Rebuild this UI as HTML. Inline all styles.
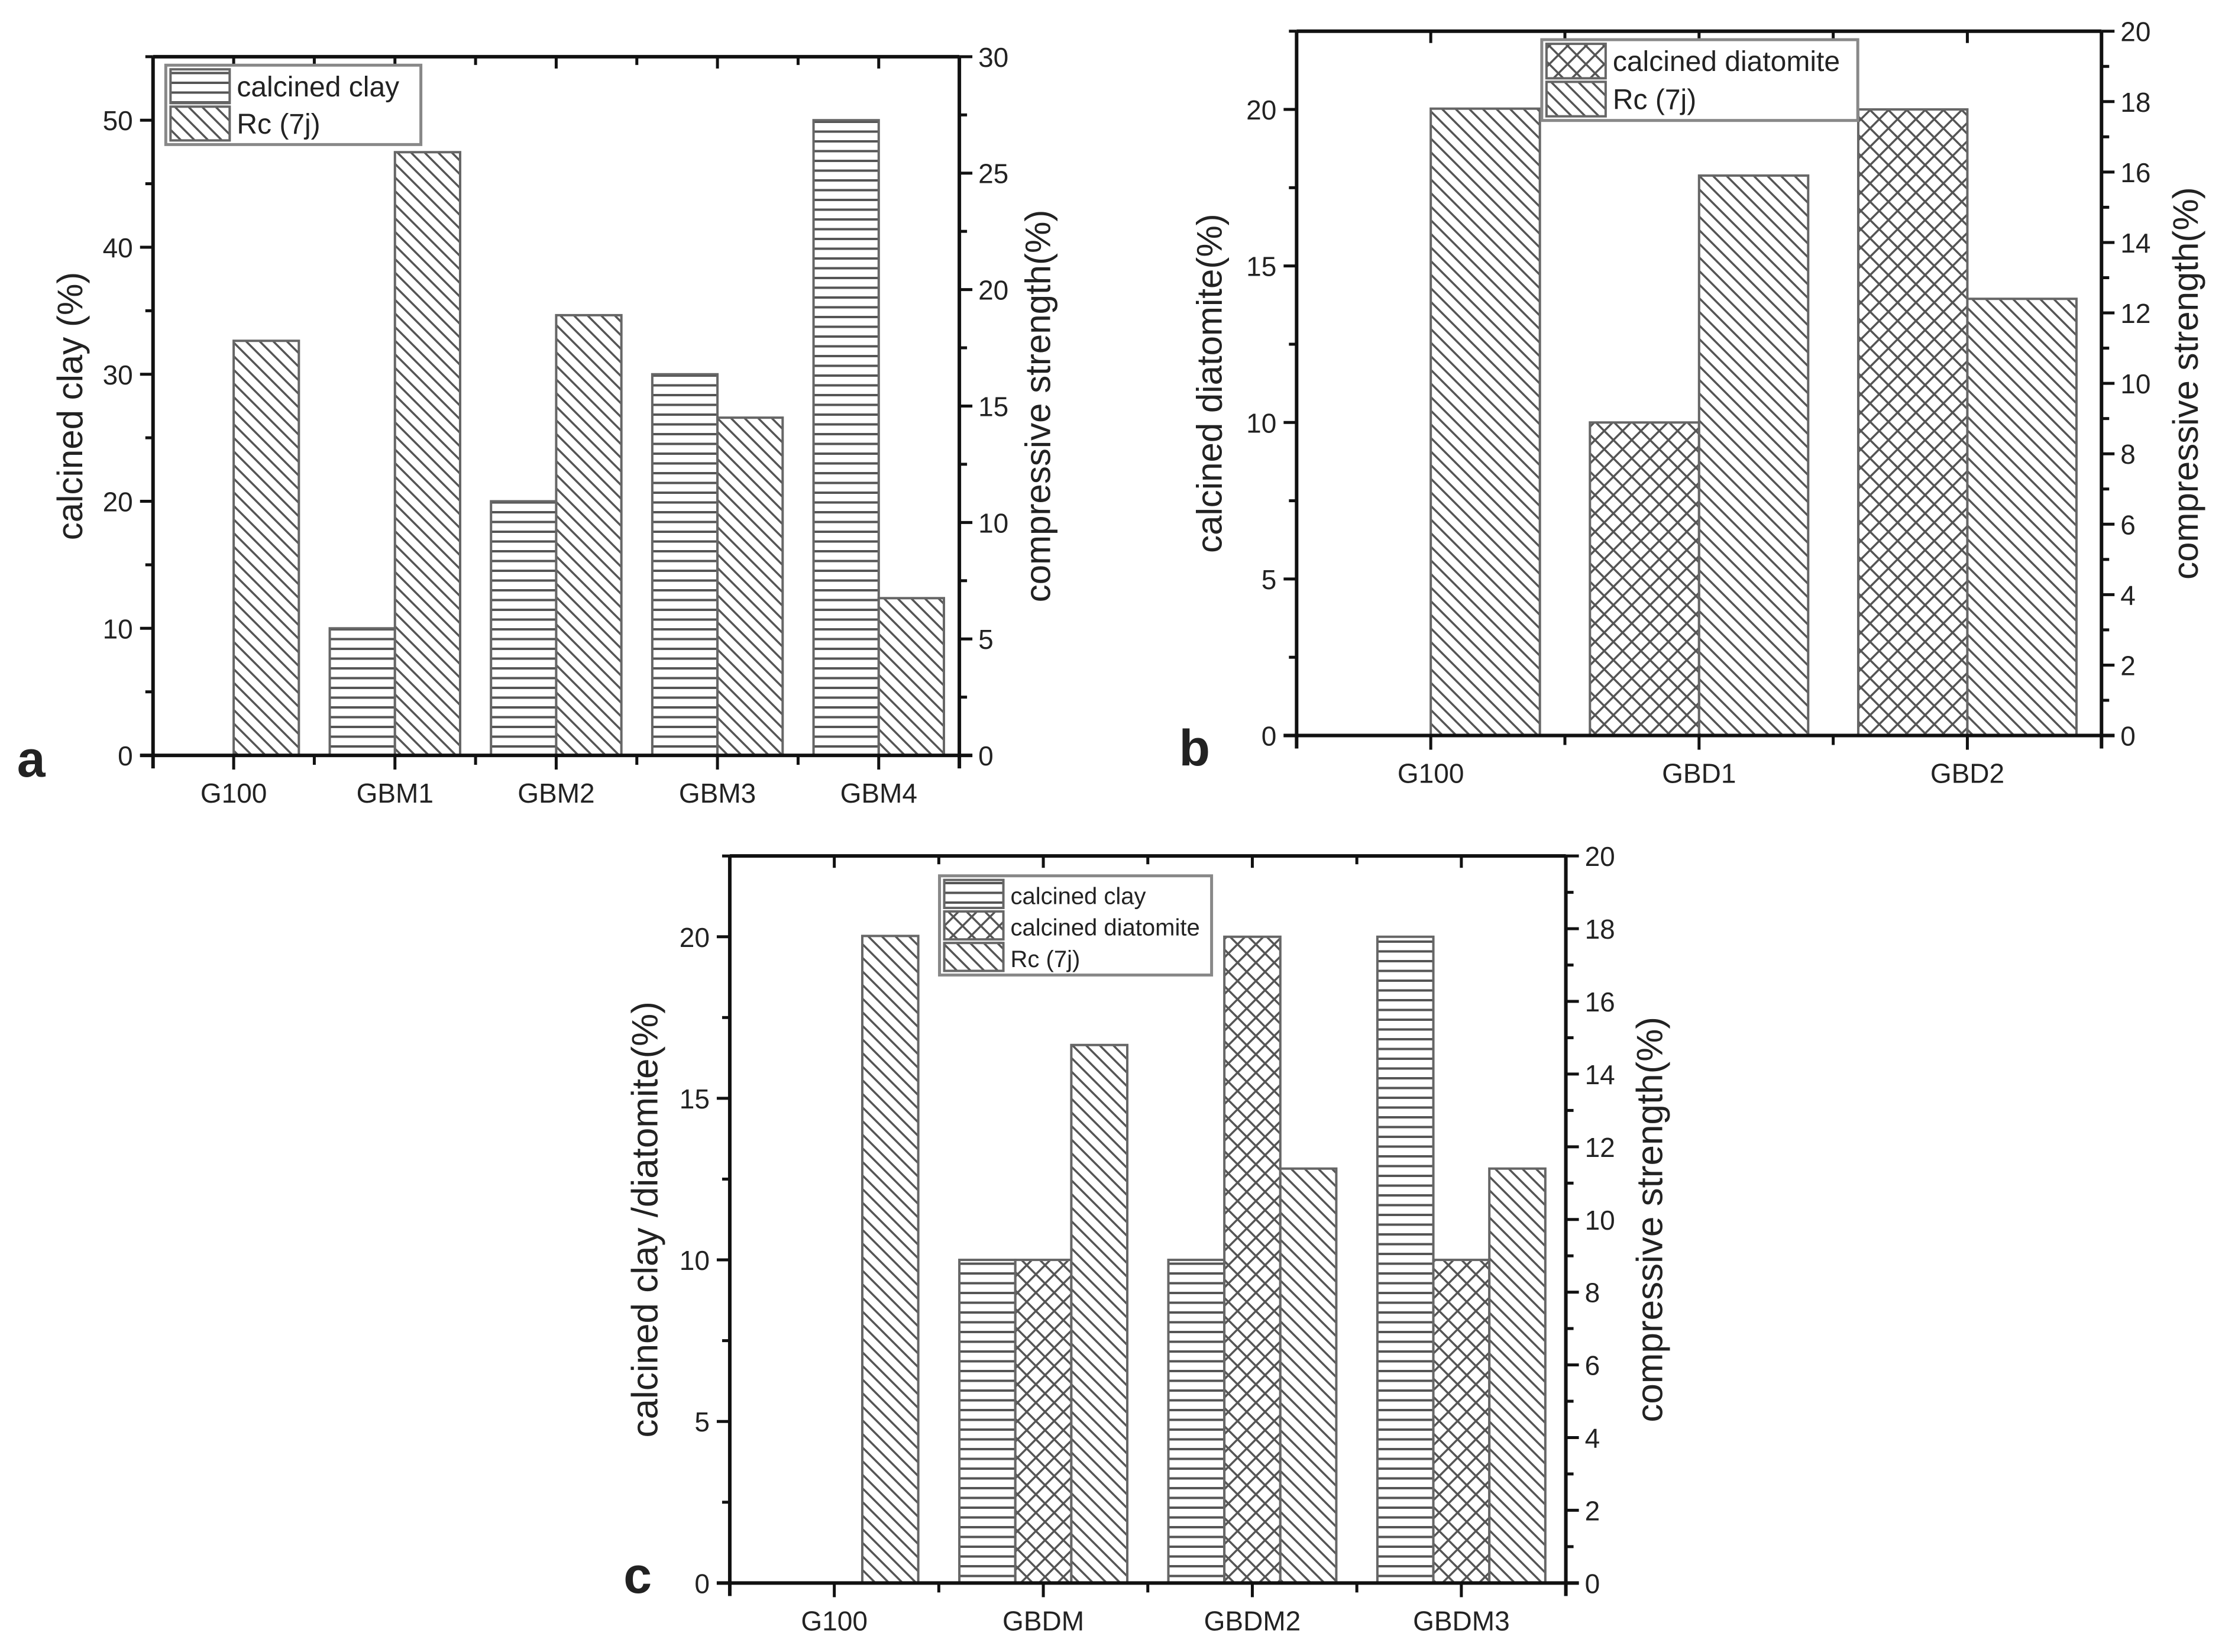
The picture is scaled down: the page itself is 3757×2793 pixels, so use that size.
<!DOCTYPE html>
<html><head><meta charset="utf-8"><style>
html,body{margin:0;padding:0;background:#fff;}
svg{display:block;}
text{font-family:"Liberation Sans",sans-serif;fill:#222;}
</style></head><body>
<svg id="fig" width="3757" height="2793" viewBox="0 0 3757 2793" xmlns="http://www.w3.org/2000/svg">
<defs>
<pattern id="pH" patternUnits="userSpaceOnUse" width="40" height="16.5"><rect width="40" height="16.5" fill="#fff"/><line x1="0" y1="8" x2="40" y2="8" stroke="#555" stroke-width="4"/></pattern>
<pattern id="pD" patternUnits="userSpaceOnUse" width="23" height="23"><rect width="23" height="23" fill="#fff"/><path d="M-6,-6 L29,29 M-6,17 L6,29 M17,-6 L29,6" stroke="#555" stroke-width="3.5"/></pattern>
<pattern id="pX" patternUnits="userSpaceOnUse" width="31" height="31"><rect width="31" height="31" fill="#fff"/><path d="M0,0 L31,31 M31,0 L0,31" stroke="#555" stroke-width="3.5"/></pattern>
</defs>
</svg>
<script>
// ---- data (chart a) ----
const catsA = ["G100","GBM1","GBM2","GBM3","GBM4"];
const clayA = [0,10,20,30,50];
const rcA = [17.8,25.9,18.9,14.5,6.75];
const leftTicksA = [0,10,20,30,40,50];
const rightTicksA = [0,5,10,15,20,25,30];
// ---- data (chart b) ----
const catsB = ["G100","GBD1","GBD2"];
const diatB = [0,10,20];
const rcB = [17.8,15.9,12.4];
const leftTicksB = [0,5,10,15,20];
const rightTicksB = [0,2,4,6,8,10,12,14,16,18,20];
// ---- data (chart c) ----
const catsC = ["G100","GBDM","GBDM2","GBDM3"];
const clayC = [0,10,10,20];
const diatC = [0,10,20,10];
const rcC = [17.8,14.8,11.4,11.4];
const leftTicksC = [0,5,10,15,20];
const rightTicksC = [0,2,4,6,8,10,12,14,16,18,20];

const S = 2.396;
const NS = "http://www.w3.org/2000/svg";
const svg = document.getElementById('fig');
function mk(tag, attrs, parent){const e=document.createElementNS(NS,tag);for(const k in attrs)e.setAttribute(k,attrs[k]);(parent||svg).appendChild(e);return e;}

function chart(c){
  const g = mk('g',{});
  
  
  const L=c.L*S,R=c.R*S,T=c.T*S,B=c.B*S;
  const yl=v=>B-(v-0)/c.lmax*(B-T);
  const yr=v=>B-(v-0)/c.rmax*(B-T);
  const n=c.cats.length, step=(R-L)/n;
  const cx=i=>L+step*(i+0.5);
  const bw=c.bw*S;
  const ns=c.series.length;
  c.series.forEach((s,si)=>{
    s.vals.forEach((v,i)=>{
      if(v<=0) return;
      const x=cx(i)-ns*bw/2+si*bw;
      const y=s.axis==='r'?yr(v):yl(v);
      const r=mk('rect',{x:x,y:y,width:bw,height:B-y,fill:'url(#'+s.pat+')',stroke:'#666','stroke-width':4},g);
      
      
    });
  });
  const fr=mk('path',{d:`M${L},${T} L${R},${T} M${L},${T} L${L},${B+22} M${R},${T} L${R},${B+22} M${L-22},${B} L${R+22},${B}`,stroke:'#111','stroke-width':6,fill:'none'},g);
  
  
  for(let i=0;i<=2*n;i++){const x=L+step*i/2;mk('line',{x1:x,y1:B,x2:x,y2:B+(i%2?24:16),stroke:'#111','stroke-width':5},g);mk('line',{x1:x,y1:T,x2:x,y2:T+(i%2?20:14),stroke:'#111','stroke-width':5},g);}
  c.cats.forEach((t,i)=>{const e=mk('text',{x:cx(i),y:B+80,'font-size':46,'text-anchor':'middle'},g);e.textContent=t;});
  const lstep=c.lt[1]-c.lt[0];
  for(let v=0;v<=c.lmax+1e-6;v+=lstep/2){const y=yl(v);const maj=Math.abs(v/lstep-Math.round(v/lstep))<1e-6;mk('line',{x1:L,y1:y,x2:L-(maj?22:13),y2:y,stroke:'#111','stroke-width':5},g);}
  c.lt.forEach(v=>{const e=mk('text',{x:L-34,y:yl(v)+17,'font-size':46,'text-anchor':'end'},g);e.textContent=v;});
  const rstep=c.rt[1]-c.rt[0];
  for(let v=0;v<=c.rmax+1e-6;v+=rstep/2){const y=yr(v);const maj=Math.abs(v/rstep-Math.round(v/rstep))<1e-6;mk('line',{x1:R,y1:y,x2:R+(maj?22:13),y2:y,stroke:'#111','stroke-width':5},g);}
  c.rt.forEach(v=>{const e=mk('text',{x:R+32,y:yr(v)+17,'font-size':46,'text-anchor':'start'},g);e.textContent=v;});
  const lt=mk('text',{x:c.ltx*S,y:(T+B)/2,'font-size':c.tfs,'text-anchor':'middle',transform:`rotate(-90 ${c.ltx*S} ${(T+B)/2})`},g);lt.textContent=c.ltitle;
  
  const rt=mk('text',{x:c.rtx*S,y:(T+B)/2,'font-size':c.tfs,'text-anchor':'middle',transform:`rotate(-90 ${c.rtx*S} ${(T+B)/2})`},g);rt.textContent='compressive strength(%)';
  
  const pl=mk('text',{x:c.px*S,y:c.py*S,'font-size':86,'font-weight':'bold','text-anchor':'middle',fill:'#111'},g);pl.textContent=c.panel;
  
  const lg=mk('g',{},g);
  const lx=c.lg[0]*S,ly=c.lg[1]*S,lw=c.lg[2]*S,lh=c.lg[3]*S;
  mk('rect',{x:lx,y:ly,width:lw,height:lh,fill:'#fff',stroke:'#888','stroke-width':5},lg);
  const rh=(lh-8)/c.series.length;
  c.series.forEach((s,si)=>{
    const y0=ly+4+si*rh;
    mk('rect',{x:lx+8,y:y0+3,width:100,height:rh-6,fill:'url(#'+s.pat+')',stroke:'#666','stroke-width':4},lg);
    const t=mk('text',{x:lx+120,y:y0+rh/2+17,'font-size':c.lfs},lg);t.textContent=s.label;
    
  });
}

chart({name:'chart-a',cats:catsA,L:108,R:677,T:40,B:533,lmax:55,rmax:30,lt:leftTicksA,rt:rightTicksA,bw:46,
  series:[{key:'clay',label:'calcined clay',pat:'pH',axis:'l',vals:clayA},{key:'rc',label:'Rc (7j)',pat:'pD',axis:'r',vals:rcA}],
  ltitle:'calcined clay (%)',ltx:58,rtx:741,tfs:60,panel:'a',px:22,py:548,lg:[117,46,180,56],lfs:48});
chart({name:'chart-b',cats:catsB,L:915,R:1483,T:22,B:519,lmax:22.5,rmax:20,lt:leftTicksB,rt:rightTicksB,bw:77,
  series:[{key:'diatomite',label:'calcined diatomite',pat:'pX',axis:'l',vals:diatB},{key:'rc',label:'Rc (7j)',pat:'pD',axis:'r',vals:rcB}],
  ltitle:'calcined diatomite(%)',ltx:862,rtx:1551,tfs:60,panel:'b',px:843,py:540,lg:[1088,28,223,57],lfs:48});
chart({name:'chart-c',cats:catsC,L:515,R:1105,T:604,B:1117,lmax:22.5,rmax:20,lt:leftTicksC,rt:rightTicksC,bw:39.5,
  series:[{key:'clay',label:'calcined clay',pat:'pH',axis:'l',vals:clayC},{key:'diatomite',label:'calcined diatomite',pat:'pX',axis:'l',vals:diatC},{key:'rc',label:'Rc (7j)',pat:'pD',axis:'r',vals:rcC}],
  ltitle:'calcined clay /diatomite(%)',ltx:464,rtx:1173,tfs:62,panel:'c',px:450,py:1124,lg:[663,618,192,70],lfs:40});
</script>
</body></html>
